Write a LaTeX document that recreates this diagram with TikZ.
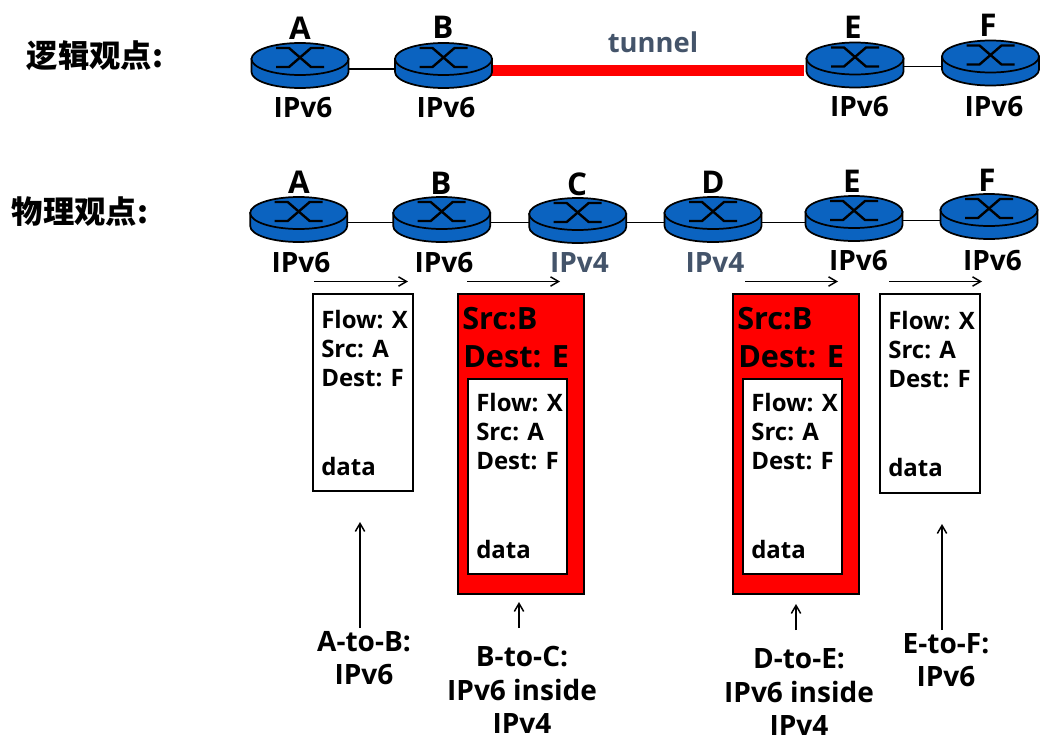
\documentclass[tikz,border=0pt]{standalone}
\usepackage{fontspec}
\setmainfont{Open Sans}
\newfontfamily\cjkfont{Noto Sans CJK SC}
\usetikzlibrary{arrows.meta}
\definecolor{routerblue}{HTML}{0B63C0}
\definecolor{slate}{HTML}{44546A}
\tikzset{
  lbl/.style={font=\fontsize{21pt}{25pt}\selectfont\bfseries, inner sep=0pt},
  routername/.style={font=\fontsize{23.5pt}{28pt}\selectfont\bfseries, inner sep=0pt},
  pkt/.style={font=\fontsize{18pt}{22pt}\selectfont\bfseries, inner sep=0pt, anchor=west},
  outerpkt/.style={font=\fontsize{23pt}{28pt}\selectfont\bfseries, inner sep=0pt, anchor=west},
  view/.style={font=\cjkfont\fontsize{23.5pt}{28pt}\selectfont\bfseries, inner sep=0pt},
  routerbox/.style={minimum width=72.75pt, minimum height=33pt, inner sep=0pt},
  link/.style={line width=1.4pt},
  flow/.style={line width=1.1pt, -{Straight Barb[length=6pt,width=7pt]}},
}
% router: name, x, y of the top disc, y of its links
\newcommand{\router}[4]{
  \node[routerbox] (#1) at (#2, #4) {};
  \begin{scope}[shift={(#2,#3)}]
    \filldraw[routerblue, draw=black, line width=1.3pt] (-48.5,0) -- (-48.5,13) arc[start angle=180, end angle=0, x radius=48.5, y radius=16] -- (48.5,0) -- cycle;
    \filldraw[routerblue, draw=black, line width=1.3pt] (0,0) ellipse[x radius=48.5, y radius=16];
    \draw[line width=1.8pt] (-24,-11) -- (-11,-11) -- (11,8) -- (24,8);
    \draw[line width=1.8pt] (-24,8) -- (-11,8) -- (11,-11) -- (24,-11);
  \end{scope}
}
% the three header lines of a packet
\newcommand{\header}[3]{
  \node[pkt] (#1flow) at (#2, #3) {Flow: X};
  \node[pkt] (#1src) at (#2, #3+29) {Src: A};
  \node[pkt] (#1dest) at (#2, #3+58) {Dest: F};
  \node[pkt] (#1data) at (#2, #3+146) {data};
}
\begin{document}
\begin{tikzpicture}[x=0.75pt, y=-0.75pt]
  \useasboundingbox (0, 0) rectangle (1041, 750);

  % logical view
  \node[view] (logical) at (95, 56) {逻辑观点:};
  \draw[red, line width=8pt] (490, 70.5) -- (804, 70.5);
  \router{la}{300}{59}{69}
  \router{lb}{443.5}{59}{69}
  \router{le}{855}{58.5}{66.5}
  \router{lf}{990.5}{56.5}{66.5}
  \draw[link] (la) -- (lb);
  \draw[link] (le) -- (lf);
  \node[routername] (lan) at (300, 28) {A};
  \node[routername] (lbn) at (443, 27) {B};
  \node[routername] (len) at (853, 27) {E};
  \node[routername] (lfn) at (988, 25) {F};
  \node[lbl] (lav) at (303, 108) {IPv6};
  \node[lbl] (lbv) at (446, 108) {IPv6};
  \node[lbl] (lev) at (859.5, 107) {IPv6};
  \node[lbl] (lfv) at (994, 107) {IPv6};
  \node[lbl, font=\fontsize{20.5pt}{25pt}\selectfont\bfseries, text=slate] (tunnel) at (653, 42) {tunnel};

  % physical view
  \node[view] (physical) at (80, 212) {物理观点:};
  \router{pa}{298.7}{213}{222.5}
  \router{pb}{441.7}{213}{222.5}
  \router{pc}{577.7}{214}{222.5}
  \router{pd}{713}{213}{222.5}
  \router{pe}{854}{212}{222.5}
  \router{pf}{989}{210}{220.5}
  \draw[link] (pa) -- (pb);
  \draw[link] (pb) -- (pc);
  \draw[link] (pc) -- (pd);
  \draw[link] (pd) -- (pe);
  \draw[link] (pe.east |- pf) -- (pf);
  \node[routername] (pan) at (299, 182) {A};
  \node[routername] (pbn) at (441, 183) {B};
  \node[routername] (pcn) at (577, 184) {C};
  \node[routername] (pdn) at (713, 182) {D};
  \node[routername] (pen) at (852, 181) {E};
  \node[routername] (pfn) at (987, 180) {F};
  \node[lbl] (pav) at (301, 263) {IPv6};
  \node[lbl] (pbv) at (444, 263) {IPv6};
  \node[lbl, text=slate] (pcv) at (579.5, 263) {IPv4};
  \node[lbl, text=slate] (pdv) at (715, 263) {IPv4};
  \node[lbl] (pev) at (858.5, 261) {IPv6};
  \node[lbl] (pfv) at (992.5, 261) {IPv6};

  % hop direction
  \coordinate (f1a) at (314, 281.5);
  \coordinate (f1b) at (408, 281.5);
  \coordinate (f2a) at (467, 281.5);
  \coordinate (f2b) at (560, 281.5);
  \coordinate (f3a) at (745, 281.5);
  \coordinate (f3b) at (838, 281.5);
  \coordinate (f4a) at (889, 281.5);
  \coordinate (f4b) at (982, 281.5);
  \draw[flow] (f1a) -- (f1b);
  \draw[flow] (f2a) -- (f2b);
  \draw[flow] (f3a) -- (f3b);
  \draw[flow] (f4a) -- (f4b);

  % packets
  \draw[line width=1.5pt, fill=white] (313, 294) rectangle (413, 491);
  \header{one}{321}{320}
  \draw[line width=1.5pt, fill=red] (458, 294) rectangle (584, 594);
  \draw[line width=1.5pt, fill=white] (468, 379) rectangle (567, 574);
  \node[outerpkt] (bsrc) at (462, 319) {Src:B};
  \node[outerpkt] (bdest) at (463, 357) {Dest: E};
  \header{two}{476}{403}
  \draw[line width=1.5pt, fill=red] (733, 294) rectangle (859, 594);
  \draw[line width=1.5pt, fill=white] (743, 379) rectangle (842, 574);
  \node[outerpkt] (dsrc) at (737, 319) {Src:B};
  \node[outerpkt] (ddest) at (738, 357) {Dest: E};
  \header{three}{751}{403}
  \draw[line width=1.5pt, fill=white] (880, 294) rectangle (980, 493);
  \header{four}{888}{321}

  % hop captions
  \node[lbl, align=center] (atob) at (364, 658) {A-to-B:\\IPv6};
  \node[lbl, align=center] (btoc) at (522, 690) {B-to-C:\\IPv6 inside\\IPv4};
  \node[lbl, align=center] (dtoe) at (799, 692) {D-to-E:\\IPv6 inside\\IPv4};
  \node[lbl, align=center] (etof) at (946, 660) {E-to-F:\\IPv6};
  \coordinate (a1) at (360, 522);
  \coordinate (a2) at (519, 602);
  \coordinate (a3) at (796, 604);
  \coordinate (a4) at (942, 524);
  \coordinate (b1) at (360, 628);
  \coordinate (b2) at (519, 628);
  \coordinate (b3) at (796, 630);
  \coordinate (b4) at (942, 630);
  \draw[flow] (b1) -- (a1);
  \draw[flow] (b2) -- (a2);
  \draw[flow] (b3) -- (a3);
  \draw[flow] (b4) -- (a4);
\end{tikzpicture}
\end{document}
